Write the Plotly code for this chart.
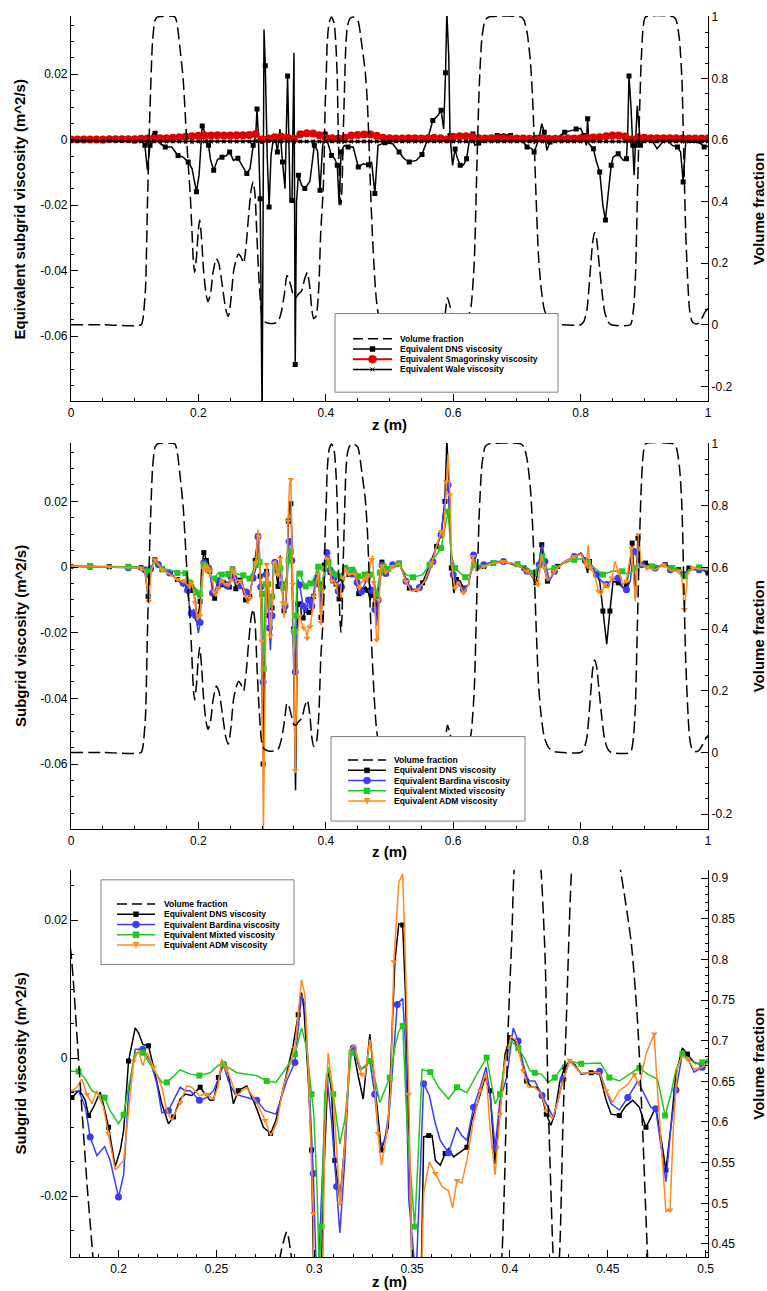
import numpy as np
import plotly.graph_objects as go

FONT = "Liberation Sans"

# ---- values, z in m ----

# volume fraction (same profile in all three panels)
vf_pts = [
    (0.0, 0.0), (0.05, 0.0), (0.11, 0.0), (0.113, 0.02), (0.117, 0.12), (0.120, 0.39),
    (0.124, 0.70), (0.128, 0.92), (0.132, 0.99), (0.136, 1.0), (0.163, 1.0), (0.167, 0.97),
    (0.171, 0.90), (0.176, 0.80), (0.180, 0.66), (0.184, 0.52), (0.187, 0.43), (0.190, 0.30),
    (0.192, 0.21), (0.194, 0.17), (0.197, 0.22), (0.200, 0.31), (0.202, 0.34), (0.205, 0.28),
    (0.208, 0.18), (0.212, 0.10), (0.215, 0.075), (0.219, 0.10), (0.223, 0.17), (0.228, 0.215),
    (0.232, 0.20), (0.238, 0.12), (0.243, 0.05), (0.247, 0.027), (0.251, 0.08), (0.255, 0.17),
    (0.259, 0.21), (0.263, 0.23), (0.267, 0.22), (0.271, 0.20), (0.275, 0.26), (0.279, 0.36),
    (0.283, 0.44), (0.286, 0.465), (0.289, 0.42), (0.292, 0.28), (0.295, 0.15), (0.298, 0.06),
    (0.300, 0.025), (0.304, 0.01), (0.31, 0.005), (0.32, 0.005), (0.325, 0.01), (0.33, 0.04),
    (0.335, 0.10), (0.339, 0.16), (0.342, 0.15), (0.346, 0.12), (0.35, 0.09), (0.354, 0.09),
    (0.357, 0.10), (0.362, 0.11), (0.367, 0.15), (0.371, 0.17), (0.375, 0.12), (0.378, 0.05),
    (0.381, 0.02), (0.385, 0.03), (0.389, 0.12), (0.392, 0.30), (0.396, 0.44), (0.3975, 0.55),
    (0.399, 0.71), (0.401, 0.83), (0.402, 0.905), (0.405, 0.98), (0.409, 1.0), (0.413, 0.98),
    (0.416, 0.905), (0.418, 0.80), (0.4195, 0.63), (0.421, 0.51), (0.422, 0.44), (0.4237, 0.39),
    (0.4254, 0.44), (0.427, 0.59), (0.429, 0.74), (0.4314, 0.905), (0.434, 0.97), (0.438, 0.995),
    (0.443, 1.0), (0.450, 0.99), (0.4568, 0.905), (0.462, 0.82), (0.4653, 0.72), (0.4678, 0.59),
    (0.4703, 0.435), (0.473, 0.30), (0.476, 0.18), (0.479, 0.09), (0.482, 0.04), (0.487, 0.01),
    (0.495, 0.0), (0.52, 0.003), (0.535, 0.006), (0.55, 0.002), (0.583, 0.0), (0.587, 0.03),
    (0.591, 0.088), (0.595, 0.06), (0.60, 0.02), (0.605, 0.008), (0.612, 0.01), (0.618, 0.02),
    (0.624, 0.03), (0.628, 0.06), (0.633, 0.20), (0.637, 0.50), (0.641, 0.78), (0.645, 0.93),
    (0.650, 0.99), (0.656, 1.0), (0.706, 1.0), (0.711, 0.99), (0.716, 0.95), (0.721, 0.86),
    (0.725, 0.72), (0.730, 0.42), (0.734, 0.22), (0.738, 0.12), (0.743, 0.05), (0.750, 0.015),
    (0.758, 0.003), (0.80, 0.0), (0.805, 0.01), (0.81, 0.05), (0.815, 0.17), (0.819, 0.27),
    (0.822, 0.30), (0.825, 0.28), (0.829, 0.20), (0.834, 0.10), (0.838, 0.04), (0.843, 0.01),
    (0.848, 0.0), (0.878, 0.0), (0.883, 0.05), (0.886, 0.15), (0.889, 0.40), (0.892, 0.65),
    (0.895, 0.85), (0.898, 0.96), (0.902, 1.0), (0.946, 1.0), (0.950, 0.99), (0.955, 0.93),
    (0.959, 0.80), (0.962, 0.55), (0.965, 0.30), (0.968, 0.15), (0.971, 0.05), (0.975, 0.01),
    (0.98, 0.003), (0.985, 0.005), (0.99, 0.02), (0.995, 0.04), (1.0, 0.055),
]

# top panel: equivalent DNS viscosity
dns1_pts = [
    (0.0, 0.0), (0.02, -0.0002), (0.05, -0.0003), (0.08, -0.0003), (0.10, -0.0004),
    (0.112, -0.0005), (0.116, -0.0017), (0.120, -0.0093), (0.124, -0.0017), (0.128, 0.0018),
    (0.132, 0.0020), (0.140, -0.0012), (0.148, -0.0022), (0.158, -0.0022), (0.168, -0.0048),
    (0.176, -0.0053), (0.184, -0.0068), (0.190, -0.0088), (0.197, -0.0159), (0.201, -0.0108),
    (0.206, 0.0042), (0.210, 0.0023), (0.216, -0.0017), (0.219, -0.0061), (0.224, -0.0093),
    (0.230, -0.0060), (0.237, -0.0053), (0.244, -0.0048), (0.249, -0.0037), (0.255, -0.0063),
    (0.262, -0.0056), (0.268, -0.0078), (0.276, -0.0103), (0.281, -0.0088), (0.286, -0.0017),
    (0.290, 0.0013), (0.292, 0.0094), (0.294, 0.0018), (0.297, -0.0180), (0.300, -0.0850),
    (0.303, 0.0337), (0.305, 0.0226), (0.308, -0.0050), (0.311, -0.0205), (0.314, -0.0048),
    (0.318, 0.0008), (0.321, 0.0003), (0.324, -0.0037), (0.328, 0.0033), (0.332, -0.0068),
    (0.336, -0.0149), (0.340, 0.0195), (0.344, -0.0190), (0.347, -0.0185), (0.350, 0.0266),
    (0.352, -0.0686), (0.354, -0.0190), (0.357, -0.0108), (0.362, -0.0139), (0.367, -0.0149),
    (0.375, -0.0127), (0.382, -0.0017), (0.387, -0.0033), (0.391, -0.0154), (0.395, -0.0017),
    (0.399, 0.0018), (0.404, -0.0012), (0.409, -0.0048), (0.414, -0.0058), (0.418, -0.0078),
    (0.421, -0.0200), (0.424, -0.0037), (0.429, -0.0017), (0.435, -0.0022), (0.443, -0.0022),
    (0.451, -0.0083), (0.459, -0.0073), (0.467, -0.0076), (0.472, -0.0068), (0.477, -0.0164),
    (0.482, -0.0017), (0.493, -0.0009), (0.505, -0.0012), (0.515, -0.0037), (0.523, -0.0058),
    (0.531, -0.0068), (0.542, -0.0063), (0.551, -0.0045), (0.560, 0.0003), (0.568, 0.0059),
    (0.576, 0.0074), (0.581, 0.0090), (0.585, 0.0033), (0.588, 0.0205), (0.590, 0.0390),
    (0.593, 0.0256), (0.595, 0.0013), (0.599, -0.0078), (0.603, -0.0028), (0.606, -0.0053),
    (0.611, -0.0078), (0.616, -0.0078), (0.621, -0.0058), (0.625, -0.0007), (0.631, 0.0018),
    (0.634, -0.0017), (0.640, -0.0010), (0.653, -0.0002), (0.669, 0.0013), (0.679, 0.0018),
    (0.690, 0.0013), (0.706, 0.0003), (0.716, -0.0022), (0.723, -0.0027), (0.727, -0.0037),
    (0.731, -0.0017), (0.735, 0.0008), (0.739, 0.0049), (0.743, 0.0023), (0.747, -0.0032),
    (0.752, -0.0007), (0.764, 0.0008), (0.775, 0.0023), (0.785, 0.0028), (0.793, 0.0033),
    (0.800, 0.0035), (0.805, 0.0013), (0.809, -0.0017), (0.811, 0.0064), (0.813, -0.0012),
    (0.820, -0.0027), (0.825, -0.0068), (0.830, -0.0098), (0.835, -0.0200), (0.839, -0.0245),
    (0.843, -0.0170), (0.848, -0.0078), (0.851, -0.0053), (0.859, -0.0043), (0.867, -0.0063),
    (0.872, -0.0058), (0.874, 0.0023), (0.876, 0.0195), (0.879, 0.0104), (0.882, -0.0017),
    (0.884, -0.0108), (0.886, -0.0017), (0.889, 0.0104), (0.894, -0.0017), (0.902, 0.0008),
    (0.912, -0.0002), (0.920, -0.0027), (0.933, 0.0003), (0.944, -0.0017), (0.952, -0.0022),
    (0.957, -0.0037), (0.961, -0.0129), (0.965, -0.0007), (0.976, -0.0002), (0.989, -0.0012),
    (0.994, -0.0022), (1.0, -0.0020),
]

# top panel: Smagorinsky and Wale, read every 0.01 m
z_les = np.linspace(0.0, 1.0, 101)
smag = [
    0.0001, 0.0001, 0.0001, 0.0001, 0.0001, 0.0001, 0.0002, 0.0002, 0.0002, 0.0002,
    0.0002, 0.0003, 0.0004, 0.0004, 0.0005, 0.0005, 0.0006, 0.0008, 0.0009, 0.0011,
    0.0012, 0.0013, 0.0013, 0.0014, 0.0013, 0.0013, 0.0014, 0.0014, 0.0015, 0.0018,
    0.0001, 0.0004, 0.0008, 0.0009, 0.0006, 0.0003, 0.0017, 0.0020, 0.0019, 0.0014,
    0.0006, 0.0005, 0.0004, 0.0006, 0.0013, 0.0015, 0.0016, 0.0016, 0.0012, 0.0006,
    0.0005, 0.0004, 0.0004, 0.0005, 0.0005, 0.0004, 0.0005, 0.0006, 0.0005, 0.0001,
    0.0009, 0.0011, 0.0011, 0.0010, 0.0005, 0.0004, 0.0005, 0.0005, 0.0005, 0.0004,
    0.0004, 0.0004, 0.0003, 0.0003, 0.0004, 0.0003, 0.0003, 0.0003, 0.0004, 0.0004,
    0.0005, 0.0006, 0.0007, 0.0008, 0.0011, 0.0013, 0.0013, 0.0010, 0.0001, 0.0007,
    0.0006, 0.0005, 0.0005, 0.0005, 0.0005, 0.0005, 0.0004, 0.0004, 0.0004, 0.0004,
    0.0004,
]
wale = [
    -0.0003, -0.0003, -0.0003, -0.0003, -0.0003, -0.0003, -0.0003, -0.0004, -0.0004, -0.0004,
    -0.0004, -0.0005, -0.0006, -0.0005, -0.0005, -0.0005, -0.0005, -0.0005, -0.0006, -0.0006,
    -0.0005, -0.0005, -0.0005, -0.0005, -0.0005, -0.0005, -0.0005, -0.0005, -0.0005, -0.0004,
    -0.0007, -0.0004, -0.0005, -0.0005, -0.0005, -0.0006, -0.0005, -0.0005, -0.0005, -0.0005,
    -0.0005, -0.0005, -0.0006, -0.0005, -0.0005, -0.0005, -0.0005, -0.0005, -0.0005, -0.0005,
    -0.0005, -0.0005, -0.0005, -0.0005, -0.0005, -0.0005, -0.0005, -0.0005, -0.0005, -0.0003,
    -0.0005, -0.0005, -0.0005, -0.0005, -0.0005, -0.0005, -0.0005, -0.0005, -0.0005, -0.0005,
    -0.0005, -0.0005, -0.0005, -0.0005, -0.0005, -0.0005, -0.0005, -0.0005, -0.0005, -0.0005,
    -0.0005, -0.0005, -0.0005, -0.0005, -0.0005, -0.0005, -0.0005, -0.0005, -0.0003, -0.0005,
    -0.0005, -0.0005, -0.0005, -0.0005, -0.0005, -0.0005, -0.0005, -0.0005, -0.0005, -0.0005,
    -0.0005,
]

# middle + bottom panels: DNS, Bardina, Mixed, ADM
dns_pts = [
    (0.0, 0.0002), (0.03, 0.0002), (0.06, 0.0001), (0.09, 0.0), (0.11, -0.0002),
    (0.116, -0.0012), (0.121, -0.0089), (0.125, -0.0010), (0.1316, 0.0022), (0.137, 0.0010),
    (0.143, -0.0008), (0.155, -0.0018), (0.167, -0.0038), (0.1762, -0.0057), (0.1796, -0.0047),
    (0.1813, -0.0052), (0.183, -0.0061), (0.1847, -0.0083), (0.1872, -0.0071), (0.1906, -0.0049),
    (0.1926, -0.0071), (0.1949, -0.0100), (0.1983, -0.0157), (0.2009, -0.0133), (0.2026, -0.0105),
    (0.2051, -0.0004), (0.2085, 0.0044), (0.2102, 0.0037), (0.2124, 0.0020), (0.2153, 0.0018),
    (0.2179, -0.0013), (0.2221, -0.0066), (0.2255, -0.0095), (0.2281, -0.0085), (0.2315, -0.0059),
    (0.2340, -0.0052), (0.2374, -0.0054), (0.2417, -0.0042), (0.2442, -0.0052), (0.2468, -0.0061),
    (0.2485, -0.0061), (0.2510, -0.0028), (0.2536, -0.0006), (0.2561, -0.0023), (0.2587, -0.0066),
    (0.2612, -0.0047), (0.2655, -0.0040), (0.2706, -0.0073), (0.2740, -0.0100), (0.2777, -0.0109),
    (0.2804, -0.0090), (0.2842, -0.0042), (0.2893, 0.0020), (0.2918, 0.0063), (0.2935, 0.0095),
    (0.2947, 0.0073), (0.2969, -0.0028), (0.2986, -0.0133), (0.3015, -0.0600), (0.3045, -0.0196),
    (0.3071, -0.0013), (0.3088, -0.0047), (0.3105, -0.0148), (0.3131, -0.0205), (0.3156, -0.0124),
    (0.3182, 0.0011), (0.3199, 0.0013), (0.3224, -0.0025), (0.3250, -0.0059), (0.3284, 0.0035),
    (0.3343, -0.0133), (0.3378, -0.0100), (0.3412, 0.0140), (0.3432, 0.0195), (0.3452, 0.0193),
    (0.3466, 0.0092), (0.3491, -0.0189), (0.3525, -0.0680), (0.3559, -0.0114), (0.3585, -0.0112),
    (0.3602, -0.0112), (0.3619, -0.0148), (0.3644, -0.0155), (0.3669, -0.0138), (0.3686, -0.0131),
    (0.3712, -0.0143), (0.3737, -0.0138), (0.3780, -0.0129), (0.3805, -0.0090), (0.3839, -0.0061),
    (0.3873, -0.0028), (0.3898, -0.0047), (0.3924, -0.0153), (0.3949, -0.0076), (0.3975, 0.0006),
    (0.4000, 0.0030), (0.4025, 0.0025), (0.4051, 0.0006), (0.4068, -0.0016), (0.4085, -0.0033),
    (0.4110, -0.0042), (0.4136, -0.0042), (0.4161, -0.0052), (0.4186, -0.0081), (0.4209, -0.0097),
    (0.4229, -0.0081), (0.4254, -0.0035), (0.4280, -0.0013), (0.4305, -0.0004), (0.4331, -0.0009),
    (0.4364, -0.0023), (0.4415, -0.0021), (0.4458, -0.0023), (0.4492, -0.0061), (0.4517, -0.0081),
    (0.4559, -0.0083), (0.4593, -0.0069), (0.4627, -0.0061), (0.4661, -0.0071), (0.4695, -0.0100),
    (0.4720, -0.0086), (0.4745, -0.0071), (0.4771, -0.0114), (0.4797, -0.0162), (0.4822, -0.0100),
    (0.4848, -0.0023), (0.4881, 0.0015), (0.4907, 0.0006), (0.4941, -0.0006), (0.4975, -0.0009),
    (0.515, 0.0012), (0.523, -0.0023), (0.531, -0.0064), (0.542, -0.0074), (0.552, -0.0048),
    (0.563, 0.0007), (0.574, 0.0063), (0.581, 0.0098), (0.587, 0.0200), (0.590, 0.0390),
    (0.594, 0.0220), (0.597, -0.0003), (0.601, -0.0079), (0.605, -0.0038), (0.611, -0.0043),
    (0.616, -0.0064), (0.624, -0.0054), (0.632, 0.0032), (0.638, -0.0008), (0.648, 0.0002),
    (0.663, 0.0012), (0.679, 0.0017), (0.695, 0.0007), (0.711, -0.0003), (0.722, -0.0023),
    (0.730, -0.0048), (0.735, 0.0017), (0.739, 0.0068), (0.743, -0.0003), (0.748, -0.0043),
    (0.753, -0.0033), (0.764, 0.0002), (0.780, 0.0022), (0.790, 0.0032), (0.800, 0.0042),
    (0.806, 0.0022), (0.811, -0.0018), (0.814, 0.0017), (0.820, -0.0003), (0.825, -0.0023),
    (0.830, -0.0043), (0.835, -0.0134), (0.841, -0.0235), (0.846, -0.0134), (0.851, -0.0043),
    (0.859, -0.0048), (0.867, -0.0064), (0.872, -0.0054), (0.878, 0.0017), (0.881, 0.0073),
    (0.886, -0.0094), (0.890, 0.0088), (0.894, 0.0007), (0.902, 0.0012), (0.917, -0.0003),
    (0.933, 0.0007), (0.944, -0.0003), (0.954, -0.0008), (0.962, -0.0028), (0.970, -0.0003),
    (0.986, -0.0003), (1.0, -0.0018),
]

bardina_pts = [
    (0.0, 0.0003), (0.03, 0.0002), (0.06, 0.0), (0.09, -0.0002), (0.11, -0.0003),
    (0.116, -0.0008), (0.121, -0.0033), (0.125, -0.0005), (0.1316, 0.0020), (0.137, 0.0008),
    (0.143, -0.0008), (0.155, -0.0018), (0.167, -0.0040), (0.1762, -0.0049), (0.1796, -0.0047),
    (0.183, -0.0071), (0.1855, -0.0114), (0.1889, -0.0141), (0.1929, -0.0128), (0.1957, -0.0148),
    (0.2000, -0.0201), (0.2026, -0.0169), (0.2051, -0.0052), (0.2085, 0.0013), (0.2124, 0.0013),
    (0.2162, -0.0004), (0.2196, -0.0037), (0.2221, -0.0079), (0.2255, -0.0076), (0.2315, -0.0042),
    (0.2340, -0.0047), (0.2366, -0.0047), (0.2413, -0.0061), (0.2451, -0.0057), (0.2485, -0.0047),
    (0.2510, -0.0030), (0.2536, -0.0009), (0.2561, -0.0033), (0.2595, -0.0052), (0.2655, -0.0057),
    (0.2706, -0.0061), (0.2749, -0.0076), (0.2804, -0.0081), (0.2859, -0.0033), (0.2901, -0.0006),
    (0.2935, 0.0092), (0.2952, 0.0078), (0.2978, -0.0061), (0.2995, -0.0167), (0.3015, -0.0350),
    (0.3045, -0.0148), (0.3063, -0.0023), (0.3088, -0.0090), (0.3114, -0.0186), (0.3131, -0.0253),
    (0.3156, -0.0148), (0.3182, 0.0011), (0.3199, 0.0015), (0.3233, -0.0016), (0.3258, -0.0013),
    (0.3284, -0.0004), (0.3309, -0.0052), (0.3335, -0.0129), (0.3360, -0.0119), (0.3386, -0.0069),
    (0.3424, 0.0078), (0.3452, 0.0087), (0.3466, 0.0020), (0.3483, -0.0205), (0.3520, -0.0320),
    (0.3559, -0.0037), (0.3588, -0.0054), (0.3619, -0.0095), (0.3644, -0.0119), (0.3686, -0.0137),
    (0.3729, -0.0100), (0.3754, -0.0112), (0.3780, -0.0119), (0.3814, -0.0071), (0.3848, -0.0042),
    (0.3878, -0.0013), (0.3898, -0.0052), (0.3924, -0.0129), (0.3949, -0.0061), (0.3983, -0.0028),
    (0.4017, 0.0044), (0.4042, 0.0025), (0.4068, -0.0009), (0.4093, -0.0033), (0.4127, -0.0033),
    (0.4164, -0.0054), (0.4195, -0.0073), (0.4220, -0.0085), (0.4246, -0.0061), (0.4271, -0.0030),
    (0.4305, -0.0004), (0.4364, -0.0022), (0.4415, -0.0021), (0.4458, -0.0019), (0.4492, -0.0047),
    (0.4517, -0.0066), (0.4559, -0.0075), (0.4602, -0.0057), (0.4653, -0.0033), (0.4687, -0.0052),
    (0.4720, -0.0071), (0.4745, -0.0073), (0.4771, -0.0129), (0.4797, -0.0179), (0.4822, -0.0100),
    (0.4848, -0.0046), (0.4881, 0.0006), (0.4907, 0.0001), (0.4941, -0.0020), (0.4983, -0.0013),
    (0.505, 0.0007), (0.515, 0.0012), (0.526, -0.0043), (0.537, -0.0069), (0.547, -0.0062),
    (0.558, -0.0038), (0.568, 0.0017), (0.574, 0.0068), (0.581, 0.0098), (0.588, 0.0220),
    (0.592, 0.0250), (0.596, 0.0068), (0.600, -0.0023), (0.608, -0.0053), (0.616, -0.0069),
    (0.624, -0.0054), (0.632, 0.0037), (0.637, -0.0003), (0.648, 0.0007), (0.663, 0.0017),
    (0.679, 0.0017), (0.701, 0.0007), (0.716, -0.0013), (0.727, -0.0033), (0.735, 0.0007),
    (0.740, 0.0068), (0.744, 0.0017), (0.751, -0.0043), (0.759, -0.0013), (0.775, 0.0017),
    (0.790, 0.0032), (0.801, 0.0042), (0.809, 0.0017), (0.817, 0.0007), (0.825, -0.0023),
    (0.833, -0.0043), (0.841, -0.0053), (0.849, -0.0038), (0.859, -0.0033), (0.867, -0.0064),
    (0.872, -0.0069), (0.878, -0.0043), (0.883, 0.0048), (0.890, 0.0027), (0.896, 0.0007),
    (0.907, -0.0003), (0.917, -0.0003), (0.931, 0.0009), (0.941, -0.0008), (0.954, -0.0013),
    (0.962, -0.0023), (0.970, -0.0008), (0.986, -0.0008), (1.0, -0.0011),
]

mixed_pts = [
    (0.0, 0.0003), (0.03, 0.0003), (0.06, 0.0002), (0.09, 0.0001), (0.11, 0.0),
    (0.121, -0.0013), (0.1316, 0.0015), (0.143, -0.0005), (0.155, -0.0008), (0.167, -0.0018),
    (0.1762, -0.0018), (0.1796, -0.0019), (0.183, -0.0030), (0.1864, -0.0047), (0.1929, -0.0057),
    (0.1957, -0.0076), (0.2000, -0.0095), (0.2026, -0.0082), (0.2051, -0.0042), (0.2085, 0.0008),
    (0.2124, 0.0008), (0.2162, -0.0009), (0.2221, -0.0035), (0.2247, -0.0035), (0.2315, -0.0017),
    (0.2366, -0.0023), (0.2413, -0.0025), (0.2468, -0.0021), (0.2510, -0.0010), (0.2536, -0.0009),
    (0.2604, -0.0021), (0.2706, -0.0025), (0.2757, -0.0033), (0.2804, -0.0035), (0.2859, -0.0013),
    (0.2901, 0.0006), (0.2935, 0.0044), (0.2961, 0.0015), (0.2986, -0.0052), (0.2998, -0.0082),
    (0.3015, -0.0196), (0.3025, -0.0310), (0.3037, -0.0244), (0.3054, -0.0052), (0.3071, -0.0013),
    (0.3097, -0.0052), (0.3131, -0.0124), (0.3156, -0.0090), (0.3190, 0.0008), (0.3216, 0.0001),
    (0.3241, -0.0016), (0.3284, -0.0004), (0.3309, -0.0028), (0.3335, -0.0064), (0.3386, -0.0028),
    (0.3415, 0.0020), (0.3432, 0.0039), (0.3452, 0.0047), (0.3474, -0.0095), (0.3500, -0.0196),
    (0.3513, -0.0244), (0.3530, -0.0148), (0.3551, -0.0016), (0.3593, -0.0020), (0.3636, -0.0042),
    (0.3686, -0.0059), (0.3729, -0.0042), (0.3780, -0.0050), (0.3831, -0.0023), (0.3881, 0.0001),
    (0.3898, -0.0028), (0.3924, -0.0066), (0.3949, -0.0052), (0.3975, -0.0004), (0.4008, 0.0025),
    (0.4042, 0.0015), (0.4076, -0.0001), (0.4102, -0.0018), (0.4127, -0.0021), (0.4161, -0.0023),
    (0.4195, -0.0035), (0.4229, -0.0028), (0.4266, -0.0013), (0.4305, -0.0004), (0.4364, -0.0008),
    (0.4415, -0.0008), (0.4463, -0.0007), (0.4508, -0.0028), (0.4559, -0.0033), (0.4610, -0.0023),
    (0.4661, -0.0014), (0.4703, -0.0023), (0.4754, -0.0030), (0.4793, -0.0083), (0.4822, -0.0052),
    (0.4848, -0.0017), (0.4881, 0.0006), (0.4907, 0.0001), (0.4949, -0.0008), (0.4983, -0.0006),
    (0.505, 0.0005), (0.515, 0.0009), (0.526, -0.0023), (0.537, -0.0031), (0.552, -0.0023),
    (0.563, 0.0007), (0.574, 0.0037), (0.581, 0.0058), (0.588, 0.0128), (0.592, 0.0169),
    (0.597, 0.0037), (0.603, -0.0003), (0.611, -0.0018), (0.619, -0.0031), (0.626, -0.0023),
    (0.634, 0.0007), (0.648, 0.0005), (0.663, 0.0012), (0.679, 0.0014), (0.701, 0.0009),
    (0.716, -0.0003), (0.727, -0.0018), (0.735, 0.0007), (0.740, 0.0032), (0.748, -0.0008),
    (0.759, -0.0003), (0.775, 0.0012), (0.790, 0.0022), (0.801, 0.0025), (0.812, 0.0012),
    (0.822, -0.0003), (0.835, -0.0023), (0.849, -0.0013), (0.865, -0.0013), (0.875, -0.0023),
    (0.886, -0.0003), (0.896, 0.0007), (0.912, 0.0002), (0.928, 0.0005), (0.944, -0.0003),
    (0.957, -0.0008), (0.964, -0.0028), (0.970, -0.0008), (0.986, -0.0001), (1.0, -0.0003),
]

adm_pts = [
    (0.0, 0.0003), (0.03, 0.0002), (0.06, 0.0001), (0.09, -0.0001), (0.11, -0.0003),
    (0.116, -0.0012), (0.1222, -0.0104), (0.126, -0.0010), (0.1316, 0.0022), (0.137, 0.0010),
    (0.143, -0.0008), (0.155, -0.0022), (0.167, -0.0038), (0.1762, -0.0047), (0.1787, -0.0042),
    (0.1813, -0.0030), (0.1838, -0.0052), (0.1864, -0.0066), (0.1889, -0.0047), (0.1923, -0.0071),
    (0.1949, -0.0109), (0.1983, -0.0162), (0.2026, -0.0148), (0.2051, -0.0076), (0.2077, -0.0004),
    (0.2102, 0.0011), (0.2124, -0.0011), (0.2145, 0.0008), (0.2179, -0.0013), (0.2221, -0.0042),
    (0.2247, -0.0076), (0.2272, -0.0090), (0.2315, -0.0064), (0.2349, -0.0040), (0.2374, -0.0042),
    (0.2413, -0.0054), (0.2451, -0.0052), (0.2485, -0.0059), (0.2510, -0.0040), (0.2527, -0.0001),
    (0.2553, -0.0016), (0.2604, -0.0054), (0.2655, -0.0042), (0.2706, -0.0064), (0.2749, -0.0090),
    (0.2777, -0.0112), (0.2808, -0.0095), (0.2842, -0.0042), (0.2901, 0.0015), (0.2935, 0.0114),
    (0.2952, 0.0092), (0.2969, -0.0013), (0.2995, -0.0225), (0.3020, -0.0800), (0.3054, -0.0100),
    (0.3071, 0.0008), (0.3097, -0.0052), (0.3131, -0.0210), (0.3156, -0.0124), (0.3182, 0.0013),
    (0.3207, 0.0020), (0.3241, -0.0023), (0.3258, -0.0028), (0.3284, 0.0027), (0.3301, -0.0004),
    (0.3326, -0.0109), (0.3343, -0.0155), (0.3369, -0.0113), (0.3390, -0.0049), (0.3407, 0.0140),
    (0.3432, 0.0255), (0.3452, 0.0267), (0.3466, 0.0140), (0.3483, -0.0052), (0.3491, -0.0189),
    (0.3520, -0.0620), (0.3559, -0.0196), (0.3588, -0.0150), (0.3619, -0.0167), (0.3653, -0.0186),
    (0.3686, -0.0192), (0.3707, -0.0217), (0.3729, -0.0177), (0.3754, -0.0181), (0.3780, -0.0148),
    (0.3814, -0.0090), (0.3848, -0.0047), (0.3878, -0.0021), (0.3898, -0.0100), (0.3924, -0.0169),
    (0.3949, -0.0081), (0.3975, -0.0004), (0.4005, 0.0032), (0.4034, 0.0025), (0.4068, -0.0018),
    (0.4093, -0.0042), (0.4127, -0.0042), (0.4161, -0.0052), (0.4186, -0.0076), (0.4217, -0.0088),
    (0.4246, -0.0061), (0.4271, -0.0033), (0.4305, -0.0003), (0.4364, -0.0022), (0.4415, -0.0021),
    (0.4458, -0.0021), (0.4492, -0.0047), (0.4525, -0.0064), (0.4559, -0.0047), (0.4602, -0.0038),
    (0.4636, -0.0023), (0.4661, -0.0040), (0.4695, 0.0006), (0.4720, 0.0023), (0.4737, 0.0035),
    (0.4754, -0.0047), (0.4780, -0.0148), (0.4797, -0.0222), (0.4818, -0.0220), (0.4835, -0.0100),
    (0.4856, -0.0013), (0.4881, 0.0003), (0.4907, -0.0001), (0.4941, -0.0016), (0.4983, -0.0013),
    (0.505, 0.0002), (0.515, 0.0012), (0.526, -0.0043), (0.534, -0.0074), (0.544, -0.0069),
    (0.555, -0.0043), (0.566, 0.0012), (0.574, 0.0063), (0.581, 0.0108), (0.585, 0.0088),
    (0.589, 0.0260), (0.592, 0.0345), (0.595, 0.0220), (0.598, -0.0003), (0.603, -0.0064),
    (0.608, -0.0043), (0.616, -0.0079), (0.624, -0.0054), (0.631, 0.0032), (0.636, -0.0013),
    (0.648, 0.0002), (0.663, 0.0012), (0.679, 0.0017), (0.701, 0.0007), (0.716, -0.0013),
    (0.727, -0.0033), (0.733, -0.0054), (0.739, 0.0037), (0.743, -0.0003), (0.748, -0.0043),
    (0.759, -0.0013), (0.775, 0.0017), (0.790, 0.0032), (0.801, 0.0039), (0.809, 0.0007),
    (0.812, 0.0068), (0.815, -0.0003), (0.822, -0.0023), (0.828, -0.0074), (0.833, -0.0084),
    (0.838, -0.0053), (0.843, -0.0064), (0.849, -0.0033), (0.854, 0.0017), (0.859, -0.0013),
    (0.867, -0.0053), (0.872, -0.0043), (0.878, 0.0037), (0.880, 0.0058), (0.886, -0.0104),
    (0.891, 0.0098), (0.895, 0.0007), (0.904, -0.0003), (0.917, -0.0008), (0.931, 0.0007),
    (0.941, -0.0011), (0.954, -0.0013), (0.959, -0.0033), (0.963, -0.0129), (0.968, -0.0023),
    (0.976, -0.0003), (1.0, -0.0008),
]

# ticks
x_full_ticks = [0, 0.2, 0.4, 0.6, 0.8, 1]
x_full_text = ["0", "0.2", "0.4", "0.6", "0.8", "1"]
x_zoom_ticks = [0.2, 0.25, 0.3, 0.35, 0.4, 0.45, 0.5]
x_zoom_text = ["0.2", "0.25", "0.3", "0.35", "0.4", "0.45", "0.5"]
nu_full_ticks = [-0.06, -0.04, -0.02, 0, 0.02]
nu_full_text = ["-0.06", "-0.04", "-0.02", "0", "0.02"]
nu_zoom_ticks = [-0.02, 0, 0.02]
nu_zoom_text = ["-0.02", "0", "0.02"]
vf_full_ticks = [-0.2, 0, 0.2, 0.4, 0.6, 0.8, 1]
vf_full_text = ["-0.2", "0", "0.2", "0.4", "0.6", "0.8", "1"]
vf_zoom_ticks = [0.45, 0.5, 0.55, 0.6, 0.65, 0.7, 0.75, 0.8, 0.85, 0.9]
vf_zoom_text = ["0.45", "0.5", "0.55", "0.6", "0.65", "0.7", "0.75", "0.8", "0.85", "0.9"]


def split(pts):
    z, v = zip(*pts)
    return list(z), list(v)


z_vf, vf = split(vf_pts)
z_dns1, dns1 = split(dns1_pts)
z_dns, dns = split(dns_pts)
z_bar, bar = split(bardina_pts)
z_mix, mix = split(mixed_pts)
z_adm, adm = split(adm_pts)

BLACK = "#000000"
RED = "#e00000"
BLUE = "#3b3bff"
GREEN = "#1ec81e"
ORANGE = "#ff8a1e"
VF_DASH = "12px,5px"

fig = go.Figure()


def vf_trace(xa, ya):
    fig.add_trace(go.Scatter(
        x=z_vf, y=vf, name="Volume fraction", mode="lines", xaxis=xa, yaxis=ya,
        showlegend=False,
        line=dict(color=BLACK, width=1.5, dash=VF_DASH, shape="spline", smoothing=0.6),
        hoverinfo="skip"))


def series(z, v, name, color, symbol, size, xa, ya, maxshow=0, width=1.5):
    fig.add_trace(go.Scatter(
        x=z, y=v, name=name, mode="lines+markers", xaxis=xa, yaxis=ya, showlegend=False,
        line=dict(color=color, width=width),
        marker=dict(symbol=symbol, size=size, color=color, maxdisplayed=maxshow),
        hoverinfo="skip"))


# top panel
vf_trace("x", "y2")
series(z_dns1, dns1, "Equivalent DNS viscosity", BLACK, "square", 5, "x", "y", 95)
series(list(z_les), smag, "Equivalent Smagorinsky viscosity", RED, "circle", 8, "x", "y", 0, 2)
series(list(z_les), wale, "Equivalent Wale viscosity", BLACK, "x", 4, "x", "y", 0)

# middle and bottom panels share the same series
for xa, yl, yr, nshow in [("x2", "y3", "y4", 100), ("x3", "y5", "y6", 32)]:
    vf_trace(xa, yr)
    series(z_dns, dns, "Equivalent DNS viscosity", BLACK, "square", 5, xa, yl, nshow)
    series(z_bar, bar, "Equivalent Bardina viscosity", BLUE, "circle", 7, xa, yl, nshow)
    series(z_mix, mix, "Equivalent Mixted viscosity", GREEN, "square", 6, xa, yl, nshow)
    series(z_adm, adm, "Equivalent ADM viscosity", ORANGE, "triangle-down", 6, xa, yl, nshow)


def axis(vals, text, minor_step, rng, **kw):
    d = dict(
        range=rng, tickmode="array", tickvals=vals, ticktext=text,
        showline=True, linecolor=BLACK, linewidth=1.2,
        ticks="inside", ticklen=7, tickwidth=1, tickcolor=BLACK,
        showgrid=False, zeroline=False,
        tickfont=dict(family=FONT, size=12, color=BLACK),
        minor=dict(ticks="inside", ticklen=3, tickwidth=1, tickcolor=BLACK,
                   dtick=minor_step, tick0=0, showgrid=False),
    )
    d.update(kw)
    return d


# panel boxes in paper coords (plot area 71..708 x 10..1257 px)
d1 = [0.68966, 1.0]
d2 = [0.34483, 0.65597]
d3 = [0.0, 0.31195]

fig.update_layout(
    width=767, height=1291,
    margin=dict(l=71, r=59, t=10, b=34),
    paper_bgcolor="white", plot_bgcolor="white",
    hovermode=False, showlegend=False,
    xaxis=axis(x_full_ticks, x_full_text, 0.05, [0, 1], domain=[0, 1], anchor="y"),
    yaxis=axis(nu_full_ticks, nu_full_text, 0.005, [-0.0798, 0.0378], domain=d1, anchor="x"),
    yaxis2=axis(vf_full_ticks, vf_full_text, 0.05, [-0.248, 1.003],
                overlaying="y", side="right", anchor="x"),
    xaxis2=axis(x_full_ticks, x_full_text, 0.05, [0, 1], domain=[0, 1], anchor="y3"),
    yaxis3=axis(nu_full_ticks, nu_full_text, 0.005, [-0.0798, 0.0378], domain=d2, anchor="x2"),
    yaxis4=axis(vf_full_ticks, vf_full_text, 0.05, [-0.248, 1.003],
                overlaying="y3", side="right", anchor="x2"),
    xaxis3=axis(x_zoom_ticks, x_zoom_text, 0.01, [0.1757, 0.5012], domain=[0, 1], anchor="y5"),
    yaxis5=axis(nu_zoom_ticks, nu_zoom_text, 0.005, [-0.0288, 0.0273], domain=d3, anchor="x3"),
    yaxis6=axis(vf_zoom_ticks, vf_zoom_text, 0.01, [0.434, 0.910],
                overlaying="y5", side="right", anchor="x3"),
)


# ---- legends drawn as boxes, keys and text (Tecplot-style compact spacing) ----
def px(X, Y):
    # page pixel -> paper fraction
    return (X - 71) / 637, 1 - (Y - 10) / 1247


def key_marker(symbol, cx, cy, s, color):
    h = s / 2
    if symbol in ("square", "circle"):
        x0, y0 = px(cx - h, cy + h)
        x1, y1 = px(cx + h, cy - h)
        fig.add_shape(type="rect" if symbol == "square" else "circle",
                      xref="paper", yref="paper", x0=x0, y0=y0, x1=x1, y1=y1,
                      fillcolor=color, line=dict(color=color, width=0.5))
    elif symbol == "triangle-down":
        a = px(cx - h, cy - h)
        b = px(cx + h, cy - h)
        c = px(cx, cy + h)
        fig.add_shape(type="path", xref="paper", yref="paper",
                      path=f"M{a[0]},{a[1]} L{b[0]},{b[1]} L{c[0]},{c[1]} Z",
                      fillcolor=color, line=dict(color=color, width=0.5))
    elif symbol == "x":
        for sgn in (1, -1):
            x0, y0 = px(cx - h, cy - sgn * h)
            x1, y1 = px(cx + h, cy + sgn * h)
            fig.add_shape(type="line", xref="paper", yref="paper",
                          x0=x0, y0=y0, x1=x1, y1=y1, line=dict(color=color, width=1))


top_keys = [
    ("Volume fraction", BLACK, "10px,5px", None, 0, 1.5),
    ("Equivalent DNS viscosity", BLACK, "solid", "square", 5, 1.5),
    ("Equivalent Smagorinsky viscosity", RED, "solid", "circle", 8, 2),
    ("Equivalent Wale viscosity", BLACK, "solid", "x", 4, 1.5),
]
les_keys = [
    ("Volume fraction", BLACK, "10px,5px", None, 0, 1.5),
    ("Equivalent DNS viscosity", BLACK, "solid", "square", 5, 1.5),
    ("Equivalent Bardina viscosity", BLUE, "solid", "circle", 7, 1.5),
    ("Equivalent Mixted viscosity", GREEN, "solid", "square", 6, 1.5),
    ("Equivalent ADM viscosity", ORANGE, "solid", "triangle-down", 6, 1.5),
]
# box (left, top, right, bottom), key line x-range, text x, first row y, row step (page px)
legend_layout = [
    ((335, 309, 558, 388), (353, 392), 398, 334.3, 10.3, top_keys),
    ((331, 734, 525, 819), (348, 386), 392, 757.7, 10.3, les_keys),
    ((101, 878, 294, 963), (117, 155), 162, 902.3, 10.3, les_keys),
]

for box, (lx0, lx1), tx, ry, step, keys in legend_layout:
    bx0, by0 = px(box[0], box[3])
    bx1, by1 = px(box[2], box[1])
    fig.add_shape(type="rect", xref="paper", yref="paper", x0=bx0, y0=by0, x1=bx1, y1=by1,
                  fillcolor="white", line=dict(color="#808080", width=1))
    for i, (name, color, dash, symbol, size, width) in enumerate(keys):
        y = ry + i * step
        x0, yy = px(lx0, y)
        x1, _ = px(lx1, y)
        fig.add_shape(type="line", xref="paper", yref="paper", x0=x0, y0=yy, x1=x1, y1=yy,
                      line=dict(color=color, width=width, dash=dash))
        if symbol:
            key_marker(symbol, (lx0 + lx1) / 2, y, size, color)
        xt, yt = px(tx, y)
        fig.add_annotation(text=name, x=xt, y=yt, xref="paper", yref="paper",
                           xanchor="left", yanchor="middle", showarrow=False,
                           font=dict(family=FONT, size=8.5, color=BLACK, weight="bold"))

# axis titles as annotations so they sit where the original has them
title_font = dict(family=FONT, size=15, color=BLACK, weight="bold")
titles = [
    ("Equivalent subgrid viscosity (m^2/s)", -0.0801, sum(d1) / 2, -90),
    ("Subgrid viscosity (m^2/s)", -0.0801, sum(d2) / 2, -90),
    ("Subgrid viscosity (m^2/s)", -0.0801, sum(d3) / 2, -90),
    ("Volume fraction", 1.079, sum(d1) / 2, -90),
    ("Volume fraction", 1.079, sum(d2) / 2, -90),
    ("Volume fraction", 1.079, sum(d3) / 2, -90),
    ("z (m)", 0.5, 0.6712, 0),
    ("z (m)", 0.5, 0.3264, 0),
    ("z (m)", 0.5, -0.0200, 0),
]
for text, x, y, ang in titles:
    fig.add_annotation(text=text, x=x, y=y, xref="paper", yref="paper",
                       xanchor="center", yanchor="middle", textangle=ang,
                       showarrow=False, font=title_font)

# the page body has a default 8px margin; drop it so the figure fills the window
fig.write_html("out.html", config={"displayModeBar": False},
               post_script="document.body.style.margin='0';")
